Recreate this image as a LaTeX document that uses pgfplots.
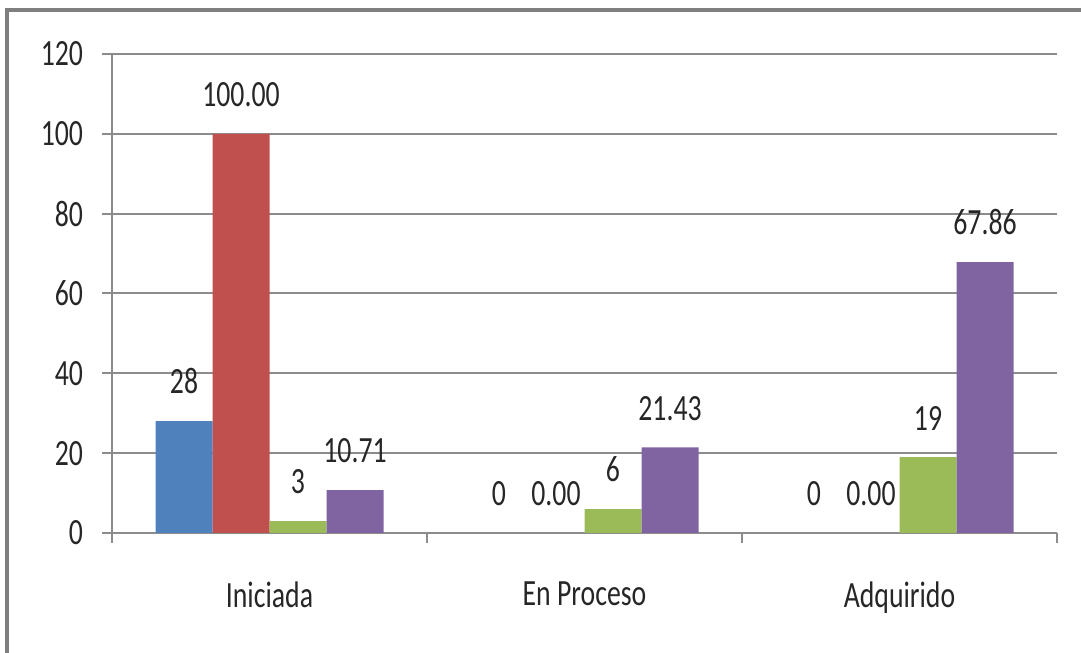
\documentclass[border=0pt]{standalone}
\usepackage{fontspec}
\setmainfont{Carlito}[FakeStretch=0.75]
\usepackage{pgfplots}
\pgfplotsset{compat=1.18}
\definecolor{cblue}{HTML}{4F81BD}
\definecolor{cred}{HTML}{C0504D}
\definecolor{cgreen}{HTML}{9BBB59}
\definecolor{cpurple}{HTML}{8064A2}
\definecolor{axgray}{HTML}{8C8C8C}
\definecolor{framegray}{HTML}{7F7F7F}
\definecolor{txt}{HTML}{262626}
\newcommand{\lf}{\fontsize{18.5bp}{22bp}\selectfont}
\begin{document}
\begin{tikzpicture}
\useasboundingbox (0,0) rectangle (540.5bp,326.5bp);
\draw[framegray, line width=1.6bp] (3.5bp,-2bp) -- (3.5bp,321.5bp) -- (542bp,321.5bp);
\begin{axis}[
  at={(56bp,60bp)}, anchor=south west,
  scale only axis, width=472.5bp, height=239.5bp,
  xmin=-0.5, xmax=2.5, ymin=0, ymax=120,
  /pgf/number format/assume math mode=true,
  ytick={0,20,...,120},
  xtick={-0.5,0.5,1.5,2.5}, xticklabels={},
  extra x ticks={0,1,2},
  extra x tick labels={Iniciada,En Proceso,Adquirido},
  extra x tick style={major tick length=0pt, xticklabel style={yshift=-21bp}},
  axis x line*=bottom, axis y line*=left,
  tick align=outside, major tick length=5bp,
  ymajorgrids, grid style={axgray, line width=1bp},
  axis line style={axgray, line width=1bp},
  tick style={axgray, line width=1bp},
  tick label style={font=\lf, text=txt},
  yticklabel style={xshift=-6bp},
  ybar=0pt, bar width=28.5bp,
  nodes near coords,
  every node near coord/.append style={font=\lf, text=txt, yshift=10bp},
]
\addplot[fill=cblue, draw=none] coordinates {(0,28) (1,0) (2,0)};
\addplot[fill=cred, draw=none, /pgf/number format/.cd, fixed, fixed zerofill, precision=2] coordinates {(0,100) (1,0) (2,0)};
\addplot[fill=cgreen, draw=none] coordinates {(0,3) (1,6) (2,19)};
\addplot[fill=cpurple, draw=none, /pgf/number format/.cd, fixed, fixed zerofill, precision=2] coordinates {(0,10.71) (1,21.43) (2,67.86)};
\end{axis}
\end{tikzpicture}
\end{document}
